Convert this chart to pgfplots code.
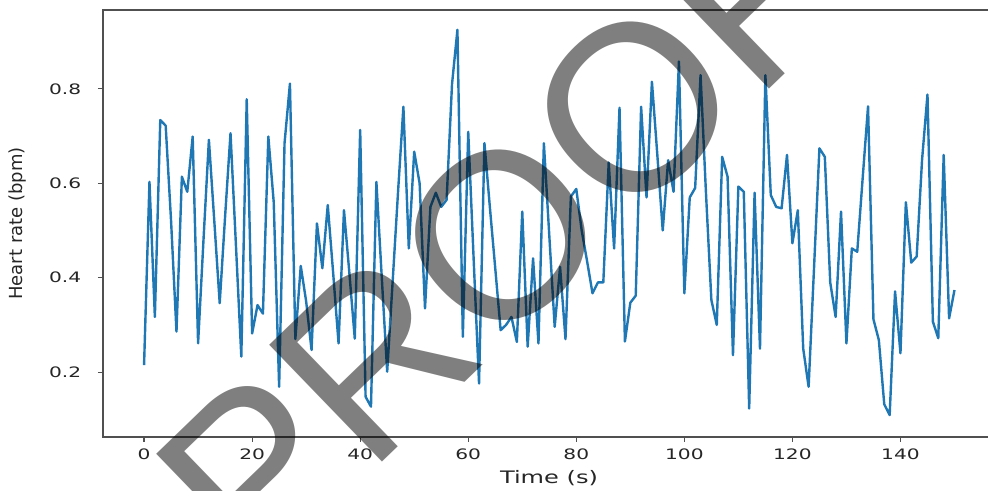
\documentclass[border=0pt]{standalone}
\usepackage{pgfplots}
\pgfplotsset{compat=1.18}
\usepackage{fontspec}
\setmainfont{DejaVu Sans}
\newfontfamily\wmfont{Liberation Sans}
\definecolor{mplblue}{HTML}{1F77B4}
\definecolor{spine}{HTML}{505050}

\begin{document}
\begin{tikzpicture}
\begin{axis}[
  width=446pt, height=213.5pt, scale only axis,
  xmin=-7.6, xmax=157.5, ymin=0.0627, ymax=0.967,
  xtick={0,20,...,140}, ytick={0.2,0.4,0.6,0.8},
  tick align=outside, xtick pos=lower, ytick pos=left,
  major tick length=2.5pt,
  axis line style={spine, line width=1pt},
  every tick/.style={spine, line width=0.6pt},
  /pgf/number format/assume math mode=true,
  tick label style={font=\fontsize{7.2}{8}\selectfont, xscale=1.4, text=black!85},
  yticklabel style={xshift=-2.5pt, /pgf/number format/.cd, fixed, fixed zerofill, precision=1},
  xlabel={Time (s)}, ylabel={Heart rate (bpm)},
  xlabel style={font=\fontsize{8.6}{9}\selectfont, xscale=1.4, text=black!85,
    at={(axis description cs:0.5,-0.097)}, anchor=center},
  ylabel style={font=\fontsize{9}{10}\selectfont, text=black!85,
    at={(axis description cs:-0.0953,0.5)}, anchor=center},
]
\coordinate (sw) at (rel axis cs:0,0);
\addplot[mplblue, line width=1.2pt, line join=round] coordinates {
(0,0.215) (1,0.603) (2,0.317) (3,0.734) (4,0.722) (5,0.52) (6,0.286) (7,0.614)
(8,0.582) (9,0.699) (10,0.261) (11,0.48) (12,0.692) (13,0.52) (14,0.346) (15,0.53)
(16,0.706) (17,0.47) (18,0.233) (19,0.778) (20,0.282) (21,0.342) (22,0.324) (23,0.699)
(24,0.56) (25,0.169) (26,0.685) (27,0.811) (28,0.270) (29,0.425) (30,0.35) (31,0.247)
(32,0.515) (33,0.420) (34,0.554) (35,0.41) (36,0.261) (37,0.543) (38,0.41) (39,0.271)
(40,0.713) (41,0.148) (42,0.127) (43,0.603) (44,0.40) (45,0.201) (46,0.39) (47,0.58)
(48,0.762) (49,0.462) (50,0.667) (51,0.60) (52,0.335) (53,0.55) (54,0.58) (55,0.55)
(56,0.565) (57,0.81) (58,0.925) (59,0.275) (60,0.709) (61,0.44) (62,0.176) (63,0.685)
(64,0.55) (65,0.42) (66,0.289) (67,0.30) (68,0.317) (69,0.264) (70,0.54) (71,0.254)
(72,0.441) (73,0.261) (74,0.685) (75,0.49) (76,0.296) (77,0.423) (78,0.270) (79,0.572)
(80,0.588) (81,0.50) (82,0.435) (83,0.367) (84,0.39) (85,0.39) (86,0.644) (87,0.462)
(88,0.760) (89,0.265) (90,0.347) (91,0.362) (92,0.762) (93,0.570) (94,0.815) (95,0.66)
(96,0.50) (97,0.649) (98,0.582) (99,0.858) (100,0.367) (101,0.570) (102,0.59) (103,0.829)
(104,0.58) (105,0.353) (106,0.30) (107,0.656) (108,0.614) (109,0.236) (110,0.593) (111,0.582)
(112,0.123) (113,0.58) (114,0.25) (115,0.829) (116,0.575) (117,0.55) (118,0.547) (119,0.66)
(120,0.473) (121,0.543) (122,0.25) (123,0.169) (124,0.42) (125,0.674) (126,0.656) (127,0.39)
(128,0.317) (129,0.54) (130,0.261) (131,0.462) (132,0.455) (133,0.61) (134,0.763) (135,0.312)
(136,0.268) (137,0.132) (138,0.109) (139,0.371) (140,0.24) (141,0.56) (142,0.432) (143,0.445)
(144,0.65) (145,0.788) (146,0.307) (147,0.272) (148,0.66) (149,0.314) (150,0.374)
};
\end{axis}
% watermark laid over the chart
\node[rotate=44, text=black, opacity=0.5, inner sep=0pt,
  font=\wmfont\fontsize{118}{118}\selectfont]
  at ([shift={(199pt,101pt)}]sw) {PROOF};
% crop to the reference frame (right spine falls just outside)
\pgfresetboundingbox
\path ([shift={(-51.5pt,-27pt)}]sw) rectangle ([shift={(442.5pt,218.5pt)}]sw);
\end{tikzpicture}
\end{document}
